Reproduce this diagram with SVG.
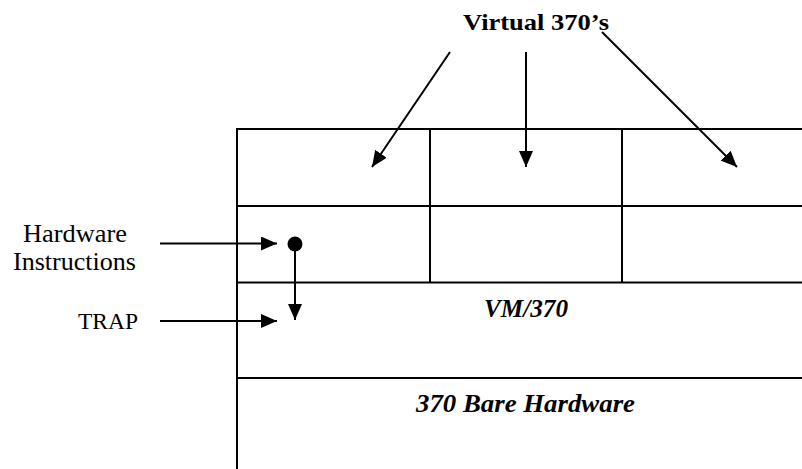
<svg xmlns="http://www.w3.org/2000/svg" width="802" height="469" viewBox="0 0 802 469">
<style>
.ln{stroke:#000;stroke-width:2;fill:none}
.ar{stroke:#000;stroke-width:2;fill:none;marker-end:url(#ah)}
text{font-family:"Liberation Serif","Times New Roman",Times,"DejaVu Serif",serif;fill:#000}
.b{font-weight:bold}
.bi{font-weight:bold;font-style:italic}
</style>
<defs>
<marker id="ah" markerUnits="userSpaceOnUse" markerWidth="16" markerHeight="14" viewBox="0 0 16 14" refX="16" refY="7" orient="auto">
<path d="M0,0 L16,7 L0,14 Z" fill="#000"/>
</marker>
</defs>
<rect width="802" height="469" fill="#fff"/>
<g id="grid">
<line class="ln" x1="237" y1="129" x2="802" y2="129"/>
<line class="ln" x1="237" y1="206" x2="802" y2="206"/>
<line class="ln" x1="237" y1="282.5" x2="802" y2="282.5"/>
<line class="ln" x1="237" y1="378" x2="802" y2="378"/>
<line class="ln" x1="237" y1="128" x2="237" y2="469"/>
<line class="ln" x1="430" y1="129" x2="430" y2="282.5"/>
<line class="ln" x1="622" y1="129" x2="622" y2="282.5"/>
</g>
<g id="title"><text class="b" x="463" y="29.5" font-size="24" textLength="146" lengthAdjust="spacingAndGlyphs">Virtual 370’s</text></g>
<g id="vm370"><text class="bi" x="484" y="317" font-size="25" textLength="84" lengthAdjust="spacingAndGlyphs">VM/370</text></g>
<g id="bare"><text class="bi" x="416" y="412" font-size="25" textLength="219" lengthAdjust="spacingAndGlyphs">370 Bare Hardware</text></g>
<g id="hwlabel">
<text x="23" y="242" font-size="25" textLength="104" lengthAdjust="spacingAndGlyphs">Hardware</text>
<text x="13" y="270" font-size="25" textLength="123" lengthAdjust="spacingAndGlyphs">Instructions</text>
</g>
<g id="trap"><text x="78" y="329" font-size="24" textLength="60" lengthAdjust="spacingAndGlyphs">TRAP</text></g>
<g id="dot"><circle cx="295" cy="244" r="7.5" fill="#000"/></g>
<g id="connectors">
<line class="ar" x1="450" y1="52" x2="372" y2="167"/>
<line class="ar" x1="526" y1="52" x2="526" y2="167"/>
<line class="ar" x1="602" y1="32" x2="737" y2="167"/>
<line class="ar" x1="160" y1="243.5" x2="277" y2="243.5"/>
<line class="ar" x1="160" y1="321" x2="277" y2="321"/>
<line class="ar" x1="295" y1="244" x2="295" y2="320"/>
</g>
</svg>
